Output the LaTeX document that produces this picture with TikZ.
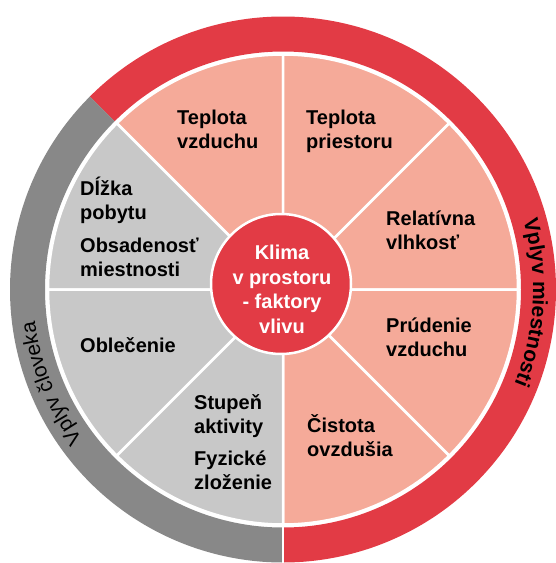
\documentclass[tikz,border=0pt]{standalone}
\usepackage{fontspec}
\setmainfont{Liberation Sans}
\usepackage{xcolor}
\usetikzlibrary{decorations.text}
\definecolor{klimared}{RGB}{226,59,69}
\definecolor{klimapink}{RGB}{245,170,153}
\definecolor{klimagray}{RGB}{200,200,200}
\definecolor{ringgray}{RGB}{136,136,136}

\begin{document}
\begin{tikzpicture}[x=1pt,y=1pt,
	pinksector/.style={fill=klimapink,draw=white,line width=2.5pt},
	graysector/.style={fill=klimagray,draw=white,line width=2.5pt},
	factor/.style={anchor=base west,align=left,inner sep=0pt,font=\fontsize{20}{24}\selectfont\bfseries}]
	\useasboundingbox (0,0) rectangle (556,-563);
	\coordinate (c) at (283,-289.5);
	\fill[klimared] (c) ++(135:273) arc[start angle=135,end angle=-90,radius=273] -- ++(90:35) arc[start angle=-90,end angle=135,radius=238] -- cycle;
	\fill[ringgray] (c) ++(135:273) arc[start angle=135,end angle=270,radius=273] -- ++(90:35) arc[start angle=270,end angle=135,radius=238] -- cycle;
	\draw[white,line width=2.5pt] (c) ++(270:230) -- ++(270:50);
	\path[pinksector] (c) -- ++(90:235) arc[start angle=90,end angle=135,radius=235] -- cycle;
	\path[pinksector] (c) -- ++(45:235) arc[start angle=45,end angle=90,radius=235] -- cycle;
	\path[pinksector] (c) -- ++(0:235) arc[start angle=0,end angle=45,radius=235] -- cycle;
	\path[pinksector] (c) -- ++(-45:235) arc[start angle=-45,end angle=0,radius=235] -- cycle;
	\path[pinksector] (c) -- ++(-90:235) arc[start angle=-90,end angle=-45,radius=235] -- cycle;
	\path[graysector] (c) -- ++(135:235) arc[start angle=135,end angle=180,radius=235] -- cycle;
	\path[graysector] (c) -- ++(180:235) arc[start angle=180,end angle=225,radius=235] -- cycle;
	\path[graysector] (c) -- ++(225:235) arc[start angle=225,end angle=270,radius=235] -- cycle;
	\node[shape=circle,fill=klimared,draw=white,line width=2.5pt,minimum size=140pt,inner sep=0pt] (hub) at (281,-284) {};
	\node[align=center,inner sep=0pt,text=white,font=\fontsize{20}{24.5}\selectfont\bfseries] (klima) at (282,-289.5) {Klima\\v prostoru\\- faktory\\vlivu};
	\node[factor] (tepvzd) at (177,-148) {Teplota\\vzduchu};
	\node[factor] (teppri) at (306,-148) {Teplota\\priestoru};
	\node[factor] (relvlh) at (386,-249) {Relatívna\\vlhkosť};
	\node[factor] (prud) at (386,-356) {Prúdenie\\vzduchu};
	\node[factor] (cist) at (307,-456) {Čistota\\ovzdušia};
	\node[factor] (dlzka) at (80,-219) {Dĺžka\\pobytu};
	\node[factor] (obsad) at (80,-276) {Obsadenosť\\miestnosti};
	\node[factor] (oblec) at (80,-352) {Oblečenie};
	\node[factor] (stupen) at (194,-433) {Stupeň\\aktivity};
	\node[factor] (fyz) at (194,-489) {Fyzické\\zloženie};
	\path[decorate,decoration={text along path,text align=center,text={|\fontsize{21}{21}\selectfont\bfseries|Vplyv miestnosti}}] (c) ++(40:250) arc[start angle=40,end angle=-46,radius=250];
	\path[decorate,decoration={text along path,text align=center,text={|\fontsize{21}{21}\selectfont|Vplyv človeka}}] (c) ++(242:250) arc[start angle=242,end angle=162,radius=250];
\end{tikzpicture}
\end{document}
